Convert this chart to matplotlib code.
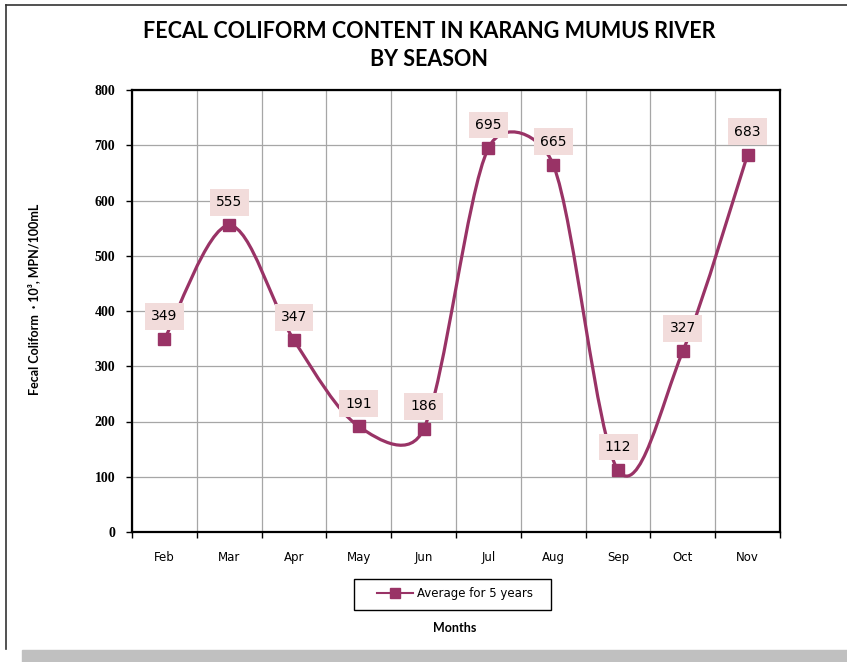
import numpy as np
import matplotlib
matplotlib.use("Agg")
import matplotlib.pyplot as plt
from matplotlib.path import Path
from matplotlib.patches import PathPatch, Rectangle
from matplotlib.lines import Line2D

months = ["Feb", "Mar", "Apr", "May", "Jun", "Jul", "Aug", "Sep", "Oct", "Nov"]
avg_5_years = [349, 555, 347, 191, 186, 695, 665, 112, 327, 683]
y_ticks = [0, 100, 200, 300, 400, 500, 600, 700, 800]

PLUM = "#993366"
LABEL_BG = "#f2dcdb"
GRID = "#a6a6a6"
W, H = 847, 662


def fx(px):
    return px / W


def fy(py):
    return 1 - py / H


fig = plt.figure(figsize=(W / 100, H / 100), dpi=100)
ax = fig.add_axes([fx(132), fy(532), 648 / W, 442 / H])

x = np.arange(len(months))
y = np.array(avg_5_years, dtype=float)
n = len(x)
ax.set_xlim(-0.5, n - 0.5)
ax.set_ylim(0, 800)

# Excel-style smoothed line: bezier segments built in screen space,
# control arm = (next - prev)/6, but never longer than half the segment
pts = ax.transData.transform(np.column_stack([x, y]))
verts = [pts[0]]
codes = [Path.MOVETO]
for i in range(n - 1):
    p0, p1 = pts[max(i - 1, 0)], pts[i]
    p2, p3 = pts[i + 1], pts[min(i + 2, n - 1)]
    half = np.linalg.norm(p2 - p1) / 2
    a1 = (p2 - p0) / 6
    a2 = (p3 - p1) / 6
    if np.linalg.norm(a1) > half:
        a1 = a1 * half / np.linalg.norm(a1)
    if np.linalg.norm(a2) > half:
        a2 = a2 * half / np.linalg.norm(a2)
    verts += [p1 + a1, p2 - a2, p2]
    codes += [Path.CURVE4] * 3
verts = ax.transData.inverted().transform(np.array(verts))
ax.add_patch(PathPatch(Path(verts, codes), facecolor="none", edgecolor=PLUM,
                       lw=2.3, zorder=3, capstyle="round"))
ax.plot(x, y, linestyle="none", marker="s", markersize=9, color=PLUM, zorder=4)

for xi, yi in zip(x, avg_5_years):
    ax.annotate(str(yi), (xi, yi), xytext=(0, 16.5), textcoords="offset points",
                ha="center", va="center", fontsize=10, family="DejaVu Sans",
                bbox=dict(boxstyle="square,pad=0.45", fc=LABEL_BG, ec="none"),
                zorder=5)

ax.set_yticks(y_ticks)
ax.set_yticklabels([str(v) for v in y_ticks], family="Liberation Serif",
                   fontweight="bold", fontsize=10)
ax.set_xticks(x)
ax.set_xticklabels(months, family="DejaVu Sans", fontsize=8.5)
ax.set_xticks(np.arange(n + 1) - 0.5, minor=True)
ax.tick_params(axis="x", which="major", length=0, pad=14)
ax.tick_params(axis="x", which="minor", length=4, width=1, direction="out")
ax.tick_params(axis="y", length=4, width=1, direction="out", pad=8)
ax.grid(True, axis="y", color=GRID, lw=0.9, zorder=0)
ax.grid(True, axis="x", which="minor", color=GRID, lw=0.9, zorder=0)
ax.set_axisbelow(True)
for s in ax.spines.values():
    s.set_linewidth(1.6)
    s.set_color("black")

fig.text(fx(34), fy(299), "Fecal Coliform  \u00b7 10\u00b3, MPN/100mL", rotation=90,
         ha="center", va="center", family="Lato", fontweight="bold", fontsize=9)

fig.text(fx(429), fy(31), "FECAL COLIFORM CONTENT IN KARANG MUMUS RIVER",
         ha="center", va="center", family="Lato", fontweight="bold", fontsize=15.5)
fig.text(fx(429), fy(60), "BY SEASON",
         ha="center", va="center", family="Lato", fontweight="bold", fontsize=15.5)
fig.text(fx(455), fy(628), "Months", ha="center", va="center",
         family="Lato", fontweight="bold", fontsize=9)

# legend: entries via fig.legend, box drawn separately to get Excel's padding
handle = Line2D([], [], color=PLUM, lw=1.5, marker="s", markersize=7)
fig.legend([handle], ["Average for 5 years"], loc="center left",
           bbox_to_anchor=(fx(377), fy(594)), frameon=False, borderpad=0,
           borderaxespad=0, handlelength=3.05, handletextpad=0.3,
           prop={"family": "DejaVu Sans", "size": 8.5})
fig.patches.append(Rectangle((fx(354), fy(610)), 197 / W, 31 / H, transform=fig.transFigure,
                             fill=False, ec="black", lw=1.0))

# outer chart frame (top and left) and the grey strip at the bottom
fig.add_artist(Line2D([fx(6), fx(6)], [fy(649), fy(5)], color="#333333", lw=1.2))
fig.add_artist(Line2D([fx(6), 1], [fy(5), fy(5)], color="#333333", lw=1.2))
fig.patches.append(Rectangle((fx(22), 0), 1, 12 / H, transform=fig.transFigure,
                             color="#c0c0c0", zorder=0))

fig.savefig("out.png", dpi=100)
